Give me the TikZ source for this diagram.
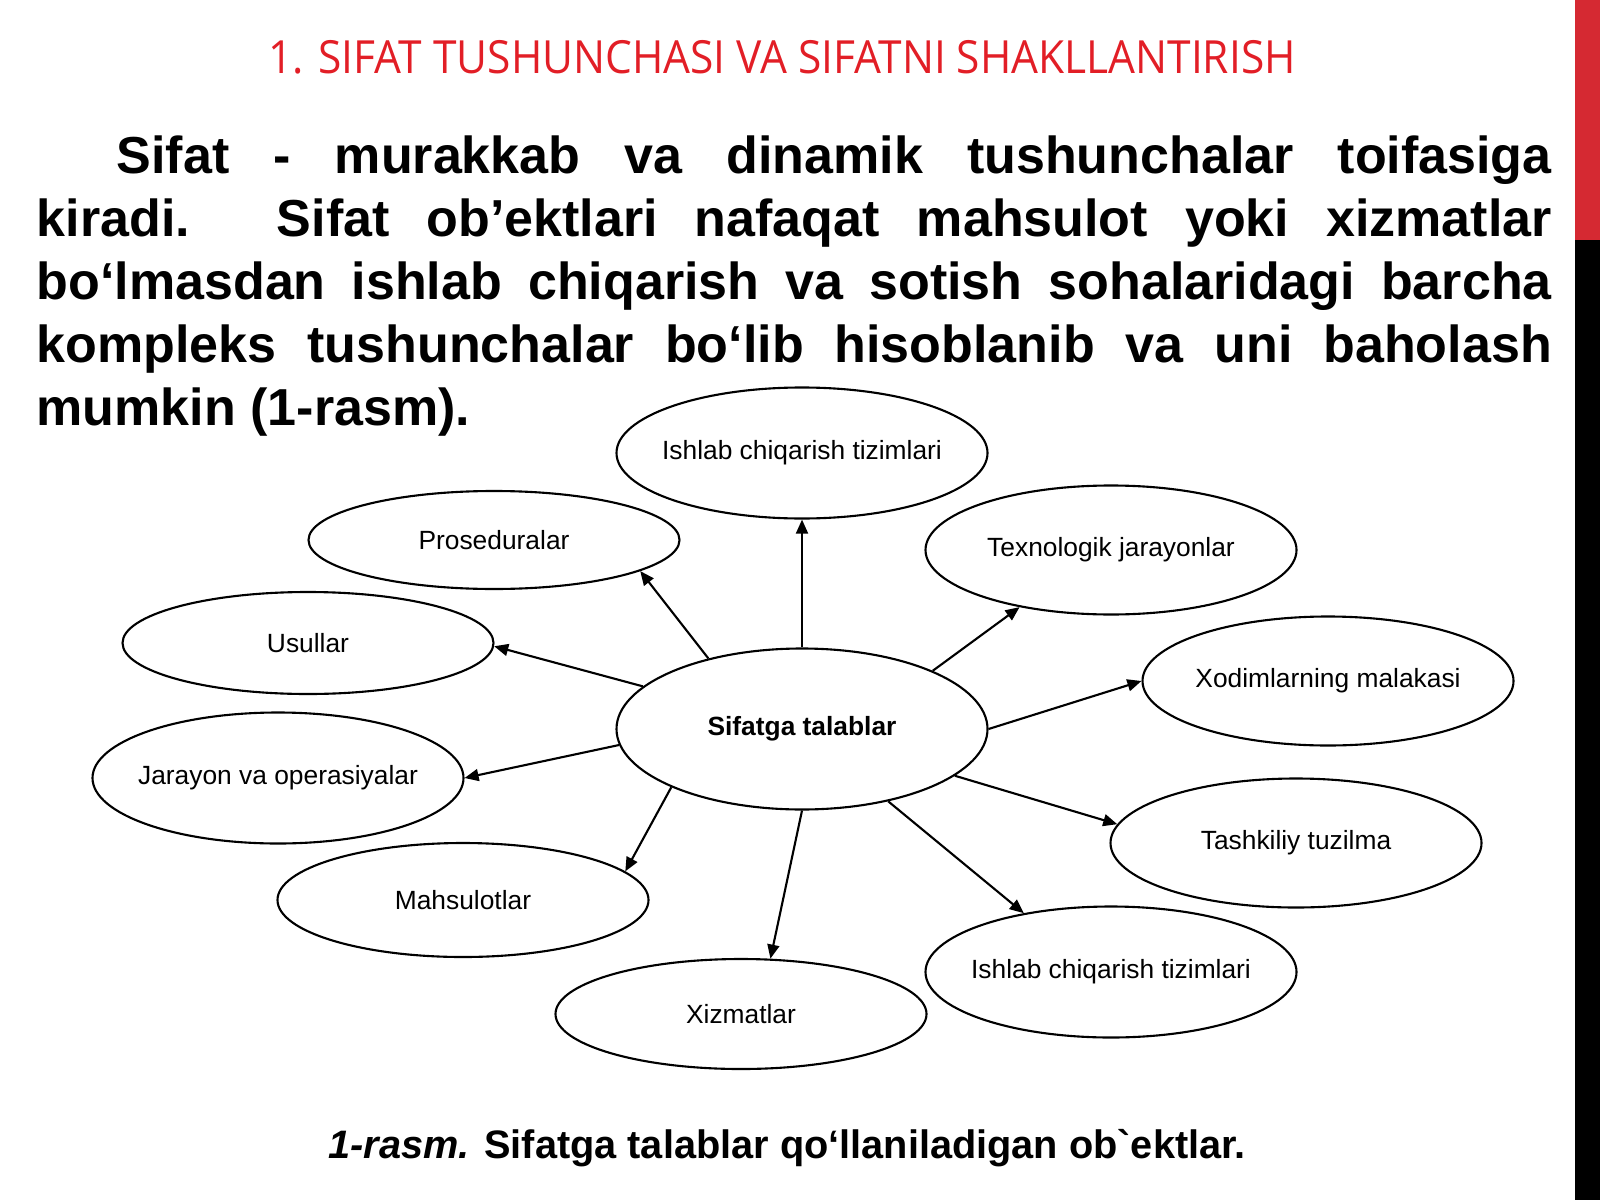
\documentclass[tikz,border=0pt]{standalone}
\usepackage{fontspec}
\setmainfont{Liberation Sans}[Ligatures=TeXOff]
\newfontfamily\titlefont{Open Sans}[FakeStretch=0.93]
\usetikzlibrary{arrows.meta,shapes.geometric}
\definecolor{titlered}{RGB}{226,30,38}
\definecolor{barred}{RGB}{213,41,50}
\tikzstyle{goal}=[ellipse, draw
,line width=0.6pt
,minimum width=3.71cm
,inner xsep=-0.2cm
,inner ysep=0pt
,font=\fontsize{7.5}{9}\selectfont
]
\tikzstyle{link} = [draw,line width=0.6pt,-{Triangle[length=4pt,width=3.4pt]}]

\begin{document}
\begin{tikzpicture}[scale=1]
    \useasboundingbox (0,0) rectangle (16,12);
    % Side bar
    \fill[barred] (15.75,9.6) rectangle (16,12);
    \fill[black] (15.75,0) rectangle (16,9.6);

    % Heading and text
    \node[anchor=base, inner sep=0pt, text=titlered, font=\titlefont\fontsize{13}{15}\selectfont] (title) at (7.82,11.26)
        {1. SIFAT TUSHUNCHASI VA SIFATNI SHAKLLANTIRISH};
    \node[anchor=north west, inner sep=0pt, text width=15.15cm, align=justify, font=\bfseries\fontsize{14.8}{17.9}\selectfont] (para) at (0.36,10.65)
        {\hyphenpenalty=10000 \exhyphenpenalty=10000 \tolerance=10000
        \hspace*{0.80cm}Sifat - murakkab va dinamik tushunchalar toifasiga\linebreak
        kiradi. Sifat ob’ektlari nafaqat mahsulot yoki xizmatlar\linebreak
        bo‘lmasdan ishlab chiqarish va sotish sohalaridagi barcha\linebreak
        kompleks tushunchalar bo‘lib hisoblanib va uni baholash\linebreak
        mumkin (1-rasm).};

    % First we draw the ellipses
    \node[goal, minimum height=1.61cm, font=\bfseries\fontsize{7.5}{9}\selectfont] (req) at (8.02,4.71) {Sifatga talablar};
    \foreach \pos/\name/\h/\txt in {{(8.02,7.47)/tizimA/1.31/Ishlab chiqarish tizimlari}, {(4.94,6.60)/prosed/0.98/Proseduralar},
        {(11.11,6.50)/texno/1.29/Texnologik jarayonlar}, {(3.08,5.57)/usul/1.02/Usullar},
        {(13.28,5.19)/xodim/1.29/Xodimlarning malakasi}, {(2.78,4.22)/jarayon/1.31/Jarayon va operasiyalar},
        {(12.96,3.57)/tashkil/1.29/Tashkiliy tuzilma}, {(4.63,3.00)/mahsul/1.14/Mahsulotlar},
        {(11.11,2.28)/tizimB/1.31/Ishlab chiqarish tizimlari}, {(7.41,1.86)/xizmat/1.10/Xizmatlar}}
        \node[goal, minimum height=\h cm] (\name) at \pos {\txt};

    % Connect the centre with arrows
    \foreach \dest/\from/\to in {tizimA/90/-90, prosed/143/-12, texno/24/212, usul/165/-1, xodim/0/180,
        jarayon/185/0, tashkil/-17/174, mahsul/204/10, tizimB/-40/146, xizmat/-90/62}
        \path[link] (req.\from) -- (\dest.\to);

    % Caption
    \node[anchor=base, inner sep=0pt, font=\bfseries\fontsize{11.3}{13}\selectfont] (caption) at (7.87,0.42)
        {\textit{1-rasm.} Sifatga talablar qo‘llaniladigan ob`ektlar.};
\end{tikzpicture}
\end{document}
